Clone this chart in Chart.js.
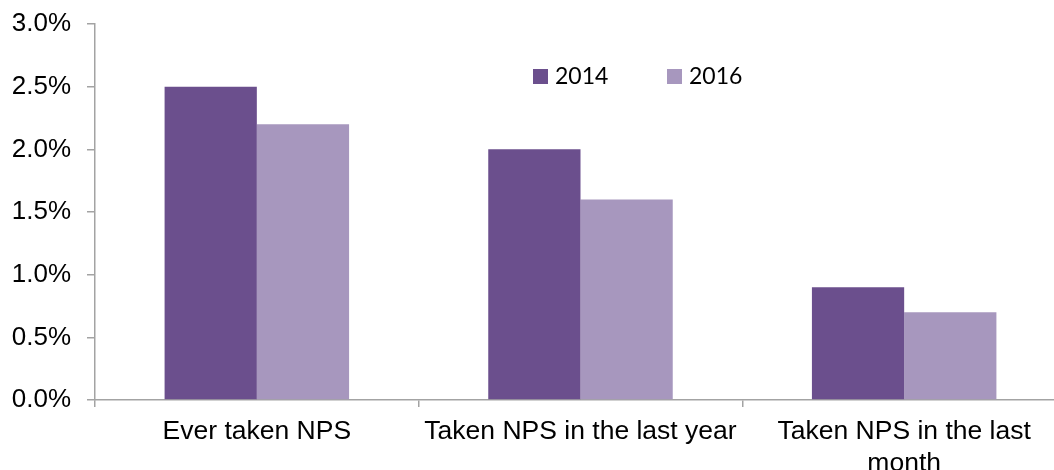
<!DOCTYPE html>
<html>
<head>
<meta charset="utf-8">
<script src="https://cdn.jsdelivr.net/npm/chart.js@4/dist/chart.umd.min.js"></script>
<style>
  html, body { margin: 0; padding: 0; background: #fff; overflow: hidden; }
  #wrap { width: 1072px; height: 470px; }
</style>
</head>
<body>
<div id="wrap"><canvas id="chart" width="1072" height="470"></canvas></div>
<script>
const categories = [
  "Ever taken NPS",
  "Taken NPS in the last year",
  ["Taken NPS in the last", "month"],
];
const seriesNames = ["2014", "2016"];
const values2014 = [2.5, 2.0, 0.9];
const values2016 = [2.2, 1.6, 0.7];
const yTicks = [0, 0.5, 1.0, 1.5, 2.0, 2.5, 3.0];

const axisColor = "#a3a3a3";

// legend drawn inside the plot, a bit right of centre, like the original
const legendBox = {
  id: "legendBox",
  afterDraw(chart) {
    const ctx = chart.ctx;
    ctx.save();
    ctx.font = "23px Lato";
    ctx.textBaseline = "middle";
    chart.data.datasets.forEach((ds, i) => {
      const x = 533 + i * 134;
      ctx.fillStyle = ds.backgroundColor;
      ctx.fillRect(x, 69, 15, 15);
      ctx.fillStyle = "#000";
      ctx.fillText(ds.label, x + 22, 77);
    });
    ctx.restore();
  },
};

new Chart(document.getElementById("chart"), {
  type: "bar",
  data: {
    labels: categories,
    datasets: [
      {
        label: seriesNames[0],
        data: values2014,
        backgroundColor: "#6b4f8d",
        categoryPercentage: 0.57,
        barPercentage: 1.0,
      },
      {
        label: seriesNames[1],
        data: values2016,
        backgroundColor: "#a797be",
        categoryPercentage: 0.57,
        barPercentage: 1.0,
      },
    ],
  },
  options: {
    animation: false,
    responsive: false,
    layout: { padding: { left: 0, right: 6, top: 24, bottom: 0 } },
    scales: {
      x: {
        grid: {
          offset: true,
          drawOnChartArea: false,
          color: axisColor,
          lineWidth: 1.5,
          tickLength: 7,
        },
        border: { color: axisColor, width: 1.5 },
        ticks: {
          color: "#000",
          padding: 9,
          maxRotation: 0,
          autoSkip: false,
          font: { family: "'Liberation Sans', Arial", size: 26.5 },
        },
        afterFit(scale) {
          scale.height = 70;
        },
      },
      y: {
        min: 0,
        max: 3.0,
        afterBuildTicks(scale) {
          scale.ticks = yTicks.map((v) => ({ value: v }));
        },
        grid: {
          drawOnChartArea: false,
          color: axisColor,
          lineWidth: 1.5,
          tickLength: 8,
        },
        border: { color: axisColor, width: 1.5 },
        ticks: {
          color: "#000",
          padding: 16,
          font: { family: "'Liberation Sans', Arial", size: 26 },
          callback: (v) => Number(v).toFixed(1) + "%",
        },
        afterFit(scale) {
          scale.width = 95;
          scale.paddingTop = 0;
          scale.paddingBottom = 0;
        },
      },
    },
    plugins: {
      legend: { display: false },
      tooltip: { enabled: false },
    },
  },
  plugins: [legendBox],
});
</script>
</body>
</html>
